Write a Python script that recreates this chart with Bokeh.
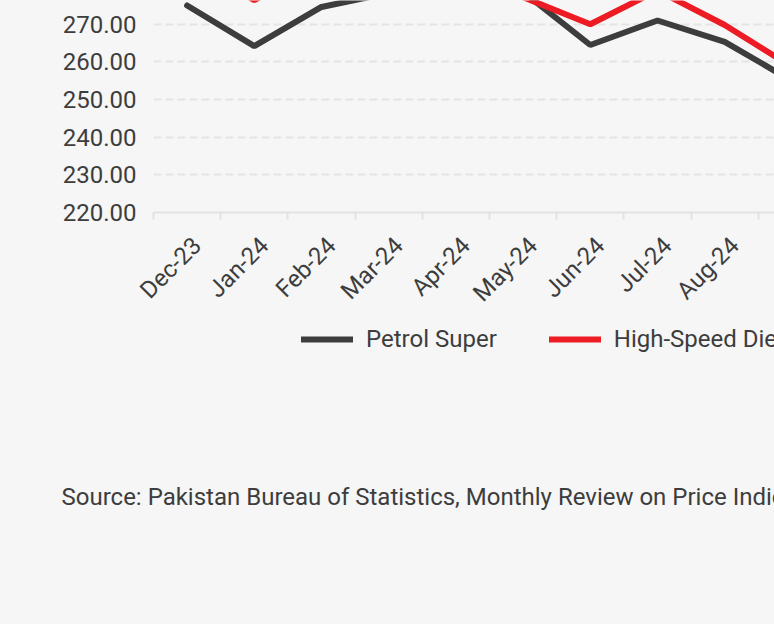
from math import pi
from bokeh.plotting import figure
from bokeh.layouts import column
from bokeh.models import (Range1d, FixedTicker, CustomJSTickFormatter, PrintfTickFormatter,
                          Legend, LegendItem, Label, GlobalInlineStyleSheet)
from bokeh.embed import file_html
from bokeh.resources import INLINE

months = ["Dec-23", "Jan-24", "Feb-24", "Mar-24", "Apr-24", "May-24",
          "Jun-24", "Jul-24", "Aug-24", "Sep-24"]
petrol_super = [275.0, 264.2, 274.6, 278.3, 289.0, 278.6, 264.5, 271.0, 265.3, 255.0]
high_speed_diesel = [287.0, 276.4, 286.0, 286.5, 291.0, 277.2, 270.0, 279.0, 269.8, 258.7]
y_ticks = [220, 230, 240, 250, 260, 270]
series_names = ["Petrol Super", "High-Speed Diesel"]
source_text = "Source: Pakistan Bureau of Statistics, Monthly Review on Price Indices"

BG = "#f5f6f5"
DARK = "#3d3d3d"
RED = "#ed1c24"
TXT = "#3d3d3d"
FONT = "Roboto"

xs = [i + 0.5 for i in range(len(months))]
label_ticks = [x + 0.15 for x in xs]

# ---------------- main chart ----------------
p = figure(width=774, height=320, output_backend="svg", toolbar_location=None,
           x_range=Range1d(0, 621 / 67.2), y_range=Range1d(220, 220 + 214 / 3.8),
           min_border_left=153, min_border_right=0, min_border_top=0, min_border_bottom=106,
           background_fill_color=BG, border_fill_color=BG, outline_line_color=None)
p.frame_align = False
p.stylesheets = [GlobalInlineStyleSheet(css=f"body {{ background: {BG}; }}")]

p.line(xs, petrol_super, line_color=DARK, line_width=6, line_cap="round")
p.line(xs, high_speed_diesel, line_color=RED, line_width=6, line_cap="round")

p.xaxis.ticker = FixedTicker(ticks=label_ticks, minor_ticks=list(range(len(months) + 1)))
p.xaxis.formatter = CustomJSTickFormatter(args=dict(labels=months), code="""
    const i = Math.floor(tick);
    return (i >= 0 && i < labels.length) ? labels[i] : '';
""")
p.xaxis.major_label_orientation = pi / 4
p.xaxis.major_tick_line_color = None
p.xaxis.minor_tick_line_color = "#e2e2e2"
p.xaxis.minor_tick_line_width = 2
p.xaxis.minor_tick_out = 7
p.xaxis.minor_tick_in = 0
p.xaxis.axis_line_color = "#e2e2e2"
p.xaxis.axis_line_width = 2
p.xaxis.major_label_text_font = FONT
p.xaxis.major_label_text_font_size = "24px"
p.xaxis.major_label_text_color = TXT
p.xaxis.major_label_standoff = 22
p.xgrid.visible = False

p.yaxis.ticker = FixedTicker(ticks=y_ticks)
p.yaxis.formatter = PrintfTickFormatter(format="%.2f")
p.yaxis.axis_line_color = None
p.yaxis.major_tick_line_color = None
p.yaxis.minor_tick_line_color = None
p.yaxis.major_label_text_font = FONT
p.yaxis.major_label_text_font_size = "24px"
p.yaxis.major_label_text_color = TXT
p.yaxis.major_label_standoff = 11
p.ygrid.ticker = FixedTicker(ticks=y_ticks)
p.ygrid.grid_line_color = "#e4e5e4"
p.ygrid.grid_line_width = 2
p.ygrid.grid_line_dash = "8 4"

# ---------------- legend + source (same series, outside this panel's ranges) ----------------
q = figure(width=774, height=300, output_backend="svg", toolbar_location=None,
           x_range=Range1d(0, 1), y_range=Range1d(0, 1),
           min_border=0, background_fill_color=BG, border_fill_color=BG,
           outline_line_color=None)
q.frame_align = False
q.axis.visible = False
q.grid.visible = False
k1 = q.line(xs, petrol_super, line_color=DARK, line_width=6, line_cap="round")
k2 = q.line(xs, high_speed_diesel, line_color=RED, line_width=6, line_cap="round")

legend = Legend(items=[LegendItem(label=series_names[0], renderers=[k1]),
                       LegendItem(label=series_names[1], renderers=[k2])],
                orientation="horizontal", location=(301, 620 - 353),
                glyph_width=52, glyph_height=24, label_height=24, label_standoff=13,
                spacing=52, padding=0, margin=0, border_line_color=None,
                background_fill_alpha=0, label_text_font=FONT,
                label_text_font_size="24px", label_text_color=TXT)
q.add_layout(legend, "center")

src = Label(x=61, y=620 - 496, x_units="screen", y_units="screen", text=source_text,
            text_font=FONT, text_font_size="24px", text_color=TXT,
            text_baseline="alphabetic", text_align="left")
q.add_layout(src)

open("out.html", "w").write(file_html(column(p, q, spacing=0), INLINE))
